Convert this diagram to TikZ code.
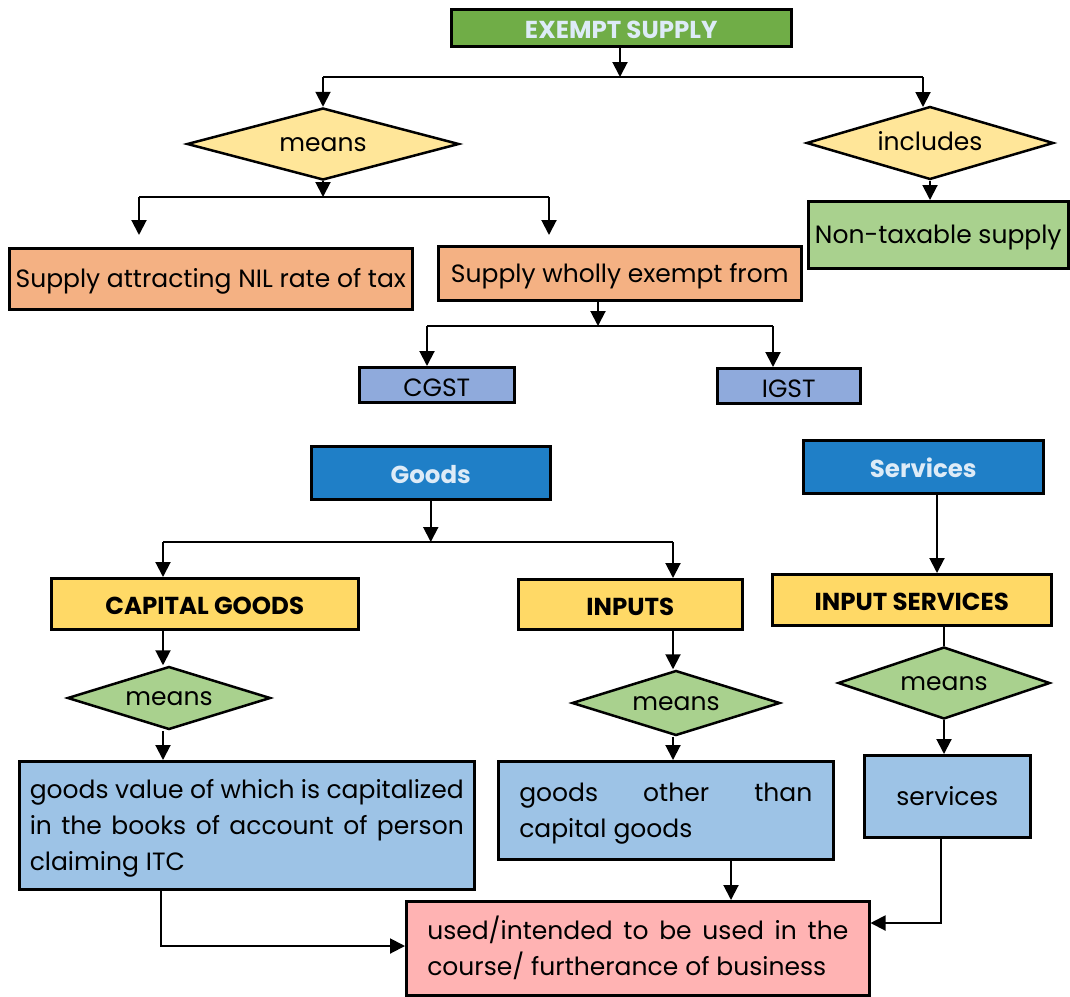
\documentclass[tikz,border=0pt]{standalone}
\usepackage{fontspec}
\setmainfont{Poppins}
\usetikzlibrary{shapes.geometric,arrows.meta}
\definecolor{cgreen}{HTML}{70AD47}
\definecolor{clight}{HTML}{DDEBF7}
\definecolor{cdiayel}{HTML}{FFE699}
\definecolor{corange}{HTML}{F4B183}
\definecolor{clgreen}{HTML}{A9D18E}
\definecolor{cpblue}{HTML}{8FAADC}
\definecolor{cdblue}{HTML}{1F7FC7}
\definecolor{cyel}{HTML}{FFD966}
\definecolor{cskyb}{HTML}{9DC3E6}
\definecolor{cpink}{HTML}{FFB3B3}
\newcommand{\parfont}{\fontsize{25}{36}\selectfont\spaceskip=0.28em plus 2em minus 0.1em\relax}
\tikzset{
  pbox/.style={draw, line width=2.5pt, anchor=north west, inner sep=0pt, align=center,
    font=\fontsize{25}{36}\selectfont},
  box/.style={pbox, text height=21pt, text depth=3pt},
  hbox/.style={pbox, font=\fontsize{24.5}{30}\selectfont\bfseries, text height=24pt, text depth=2pt},
  dia/.style={draw, diamond, line width=2.5pt, inner sep=0pt, shape aspect=3.5,
    font=\fontsize{25}{30}\selectfont, text height=19pt, text depth=4pt},
  ln/.style={line width=2pt},
  arr/.style={line width=2pt, -{Triangle[width=15pt,length=15pt]}},
}
\begin{document}
\begin{tikzpicture}[x=1pt,y=-1pt]
\useasboundingbox (0,0) rectangle (1070,996);
% top section
\node[hbox, fill=cgreen, text=clight, minimum width=340, minimum height=37] (ex) at (450,8) {EXEMPT SUPPLY};
\node[dia, fill=cdiayel, minimum width=272, minimum height=72] (m1) at (323,144) {means};
\node[dia, fill=cdiayel, minimum width=247, minimum height=73] (inc) at (930,143) {includes};
\node[box, fill=clgreen, minimum width=260, minimum height=67] (nt) at (807,200) {Non-taxable supply};
\node[box, fill=corange, minimum width=403, minimum height=61] (nil) at (8,247) {Supply attracting NIL rate of tax};
\node[box, fill=corange, minimum width=363, minimum height=54] (we) at (437,245) {Supply wholly exempt from};
\node[box, fill=cpblue, minimum width=155, minimum height=35, text height=27pt] (cg) at (358,366) {CGST};
\node[box, fill=cpblue, minimum width=143, minimum height=35, text height=27pt] (ig) at (716,367) {IGST};
% connectors top
\coordinate (j0) at (620,77);
\draw[arr] (ex.south -| j0) -- (j0);
\draw[ln] (323,77) -- (923,77);
\draw[arr] (323,77) -- (m1.north);
\draw[arr] (923,77) -- (923,107);
\coordinate (j1) at (323,197);
\draw[arr] (m1.south) -- (j1);
\draw[ln] (139,197) -- (549,197);
\draw[arr] (139,197) -- (139,235);
\draw[arr] (549,197) -- (549,235);
\draw[arr] (inc.south) -- (nt.north -| inc.south);
\coordinate (j2) at (598,326);
\draw[arr] (we.south -| j2) -- (j2);
\draw[ln] (427,326) -- (773,326);
\draw[arr] (427,326) -- (cg.north -| 427,0);
\draw[arr] (773,326) -- (ig.north -| 773,0);
% bottom section
\node[hbox, fill=cdblue, text=clight, minimum width=239, minimum height=53] (gd) at (310,445) {Goods};
\node[hbox, fill=cdblue, text=clight, minimum width=240, minimum height=53] (sv) at (802,439) {Services};
\node[hbox, fill=cyel, minimum width=307, minimum height=51] (cap) at (50,577) {CAPITAL GOODS};
\node[hbox, fill=cyel, minimum width=224, minimum height=50] (inp) at (517,578) {INPUTS};
\node[hbox, fill=cyel, minimum width=279, minimum height=51] (isv) at (771,573) {INPUT SERVICES};
\node[dia, fill=clgreen, minimum width=203, minimum height=63] (m2) at (169,698) {means};
\node[dia, fill=clgreen, minimum width=208, minimum height=65] (m3) at (676,703) {means};
\node[dia, fill=clgreen, minimum width=212, minimum height=72] (m4) at (944,683) {means};
\node[pbox, fill=cskyb, minimum width=455, minimum height=128] (capd) at (18,760)
  {\parbox{434pt}{\vspace*{7pt}\parfont goods value of which is capitalized\linebreak in the books of account of person\linebreak claiming ITC}};
\node[pbox, fill=cskyb, minimum width=335, minimum height=98] (inpd) at (497,760)
  {\parbox{293pt}{\vspace*{7pt}\parfont goods other than\linebreak capital goods}};
\node[box, fill=cskyb, minimum width=166, minimum height=82] (svd) at (863,754) {services};
\node[pbox, fill=cpink, minimum width=463, minimum height=94] (use) at (405,900)
  {\parbox{421pt}{\parfont used/intended to be used in the\linebreak course/ furtherance of business}};
% connectors bottom
\coordinate (j3) at (429,542);
\draw[arr] (gd.south) -- (gd.south |- j3);
\draw[ln] (163,542) -- (673,542);
\draw[arr] (163,542) -- (163,577);
\draw[arr] (673,542) -- (673,578);
\draw[arr] (sv.south -| 937,0) -- (isv.north -| 937,0);
\draw[arr] (cap.south -| 163,0) -- (m2.north -| 163,0);
\draw[arr] (m2.south -| 163,0) -- (capd.north -| 163,0);
\draw[arr] (inp.south -| 673,0) -- (m3.north -| 673,0);
\draw[arr] (m3.south -| 673,0) -- (inpd.north -| 673,0);
\draw[ln] (isv.south -| m4.north) -- (m4.north);
\draw[arr] (m4.south) -- (svd.north -| m4.south);
\draw[arr] (inpd.south -| 731,0) -- (use.north -| 731,0);
\draw[arr] (svd.south -| 941,0) |- (use.east |- 0,923);
\draw[arr] (capd.south -| 161,0) |- (use.west |- 0,946);
\end{tikzpicture}
\end{document}
